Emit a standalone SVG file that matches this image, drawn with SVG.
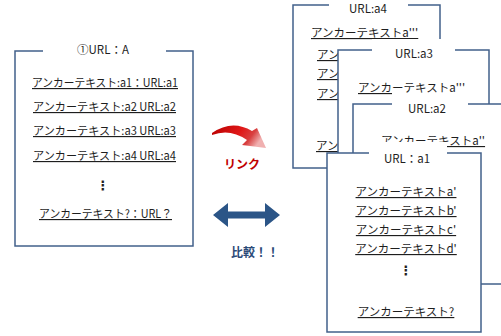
<svg xmlns="http://www.w3.org/2000/svg" width="501" height="336" viewBox="0 0 501 336">
<style>
.box{fill:#fff;stroke:#42608a;stroke-width:1.5}
.bg{fill:#fff}
.t{font-family:"Noto Sans CJK JP","Noto Sans",sans-serif;font-size:11.5px;fill:#1e1e1e}
.u{text-decoration:underline}
.m{text-anchor:middle}
.dots{font-family:"DejaVu Sans",sans-serif;font-size:13px;font-weight:bold;fill:#1e1e1e;text-anchor:middle}
</style>
<defs>
<linearGradient id="rg" x1="0" y1="0" x2="1" y2="0.3">
<stop offset="0" stop-color="#b80000"/>
<stop offset="0.55" stop-color="#e01818"/>
<stop offset="0.8" stop-color="#d84040"/>
<stop offset="1" stop-color="#f0b0b0"/>
</linearGradient>
</defs>
<rect width="501" height="336" fill="#fff"/>

<g id="page-A">
<rect class="box" x="15" y="51" width="178" height="195"/>
<rect class="bg" x="43" y="41" width="123" height="20"/>
<text class="t m" x="103" y="54">①URL：A</text>
<text class="t u" x="32" y="87" textLength="146" lengthAdjust="spacingAndGlyphs">アンカーテキスト:a1：URL:a1</text>
<text class="t u" x="33" y="111" textLength="143" lengthAdjust="spacingAndGlyphs">アンカーテキスト:a2 URL:a2</text>
<text class="t u" x="33" y="135" textLength="143" lengthAdjust="spacingAndGlyphs">アンカーテキスト:a3 URL:a3</text>
<text class="t u" x="33" y="160" textLength="143" lengthAdjust="spacingAndGlyphs">アンカーテキスト:a4 URL:a4</text>
<text class="dots" x="103" y="190">⋮</text>
<text class="t u" x="39" y="218" textLength="133" lengthAdjust="spacingAndGlyphs">アンカーテキスト?：URL？</text>
</g>

<g id="page-a4">
<rect class="box" x="293" y="5" width="147" height="163"/>
<rect class="bg" x="329" y="-6" width="79" height="22"/>
<text class="t m" x="368" y="13">URL:a4</text>
<text class="t u" x="311" y="37">アンカーテキストa'''</text>
<text class="t u" x="317" y="59">アン</text>
<text class="t u" x="317" y="78">アン</text>
<text class="t u" x="317" y="98">アン</text>
<text class="t u" x="316" y="150">アン</text>
</g>

<g id="page-a3">
<rect class="box" x="338" y="50" width="151" height="190"/>
<rect class="bg" x="372" y="39" width="83" height="22"/>
<text class="t m" x="414" y="58">URL:a3</text>
<text class="t u" x="358" y="92">アンカーテキストa'''</text>
</g>

<g id="page-a2">
<rect class="box" x="353" y="104" width="170" height="180"/>
<rect class="bg" x="392" y="93" width="76" height="22"/>
<text class="t m" x="427" y="113">URL:a2</text>
<text class="t u" x="381" y="145">アンカーテキストa''</text>
</g>

<g id="page-a1">
<rect class="box" x="327" y="153" width="154" height="179"/>
<rect class="bg" x="369" y="142" width="78" height="22"/>
<text class="t m" x="407" y="163">URL：a1</text>
<text class="t u m" x="406" y="196">アンカーテキストa'</text>
<text class="t u m" x="406" y="215">アンカーテキストb'</text>
<text class="t u m" x="406" y="234">アンカーテキストc'</text>
<text class="t u m" x="406" y="253">アンカーテキストd'</text>
<text class="dots" x="406" y="275">⋮</text>
<text class="t u m" x="406" y="316">アンカーテキスト?</text>
</g>

<g id="connectors">
<g id="link-arrow">
<path d="M212,133 Q232,119 252,131 L257,128 L266,148 L242,145 L247,140 Q230,128 212,135 Z" fill="url(#rg)"/>
<text x="242" y="169" text-anchor="middle" font-family="'Noto Sans CJK JP',sans-serif" font-size="12" font-weight="bold" fill="#c00000">リンク</text>
</g>
<g id="compare-arrow">
<polygon points="213,215 228,203 228,211.5 265,211.5 265,203 280,215 265,227 265,218.5 228,218.5 228,227" fill="#2b5587"/>
<text x="231" y="257" font-family="'Noto Sans CJK JP',sans-serif" font-size="12" font-weight="bold" fill="#2b4a78">比較！！</text>
</g>
</g>
</svg>
